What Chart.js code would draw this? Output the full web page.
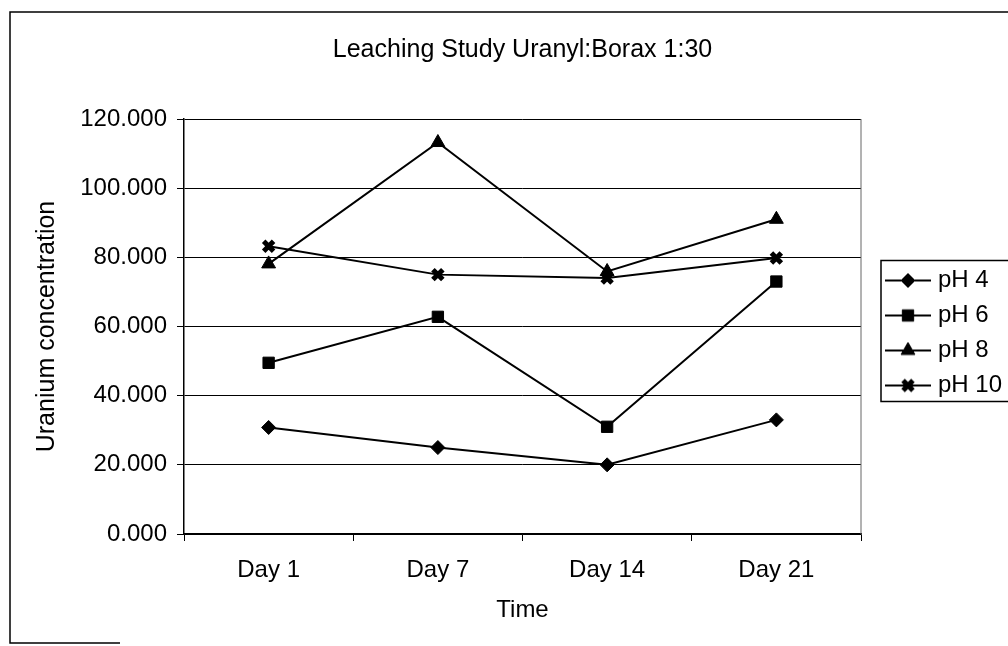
<!DOCTYPE html>
<html>
<head>
<meta charset="utf-8">
<script src="https://cdn.jsdelivr.net/npm/chart.js@4.4.1/dist/chart.umd.min.js"></script>
<style>
  html, body { margin: 0; padding: 0; background: #fff; }
</style>
</head>
<body>
<canvas id="leachChart" width="1008" height="646"></canvas>
<script>
const days = ["Day 1", "Day 7", "Day 14", "Day 21"];
const ph4 = [30.8, 25.0, 20.0, 33.0];
const ph6 = [49.5, 62.8, 31.0, 73.0];
const ph8 = [78.1, 113.2, 75.9, 91.0];
const ph10 = [83.2, 75.0, 74.0, 79.8];
const yTicks = [0, 20, 40, 60, 80, 100, 120];

Chart.defaults.font.family = '"Liberation Sans", Arial, sans-serif';
Chart.defaults.font.size = 24;
Chart.defaults.color = "#000";

function series(label, data, style, radius, bw) {
  return {
    label: label,
    data: data,
    borderColor: "#000",
    backgroundColor: "#000",
    borderWidth: 2,
    pointStyle: style,
    pointRadius: radius,
    pointBorderWidth: bw,
    pointBackgroundColor: "#000",
    pointBorderColor: "#000",
    tension: 0,
    fill: false
  };
}

// little line+marker picture for each legend entry
function legendGlyph(ds) {
  const c = document.createElement("canvas");
  c.width = 46;
  c.height = 20;
  const g = c.getContext("2d");
  g.strokeStyle = "#000";
  g.fillStyle = "#000";
  g.lineWidth = 2;
  g.beginPath();
  g.moveTo(0, 10);
  g.lineTo(46, 10);
  g.stroke();
  g.lineWidth = ds.pointBorderWidth;
  Chart.helpers.drawPoint(g, {
    pointStyle: ds.pointStyle,
    radius: ds.pointRadius,
    borderWidth: ds.pointBorderWidth,
    rotation: 0
  }, 23, 10);
  return c;
}

const decor = {
  id: "decor",
  afterLayout(chart) {
    // push the legend a bit away from the plot
    const lg = chart.legend;
    lg.left += 18; lg.right += 18;
    lg.top += 4; lg.bottom += 4;
  },
  beforeDraw(chart) {
    const ctx = chart.ctx;
    ctx.save();
    ctx.fillStyle = "#fff";
    ctx.fillRect(0, 0, chart.width, chart.height);
    ctx.restore();
  },
  afterDraw(chart) {
    const ctx = chart.ctx;
    const a = chart.chartArea;
    ctx.save();
    // outer chart frame (scan cuts it on the right and bottom)
    ctx.strokeStyle = "#000";
    ctx.lineWidth = 1.5;
    ctx.beginPath();
    ctx.moveTo(chart.width, 12);
    ctx.lineTo(10, 12);
    ctx.lineTo(10, 643);
    ctx.lineTo(120, 643);
    ctx.stroke();
    // right side of plot area
    ctx.strokeStyle = "#666";
    ctx.lineWidth = 1;
    ctx.beginPath();
    ctx.moveTo(a.right, a.top);
    ctx.lineTo(a.right, a.bottom);
    ctx.stroke();
    // legend frame
    const hb = chart.legend.legendHitBoxes;
    if (hb && hb.length) {
      const first = hb[0], last = hb[hb.length - 1];
      const x0 = first.left - 9;
      const y0 = first.top - 8;
      const y1 = last.top + last.height + 4;
      ctx.strokeStyle = "#000";
      ctx.lineWidth = 1.5;
      ctx.strokeRect(x0, y0, chart.width + 5 - x0, y1 - y0);
    }
    ctx.restore();
  }
};

const leachChart = new Chart(document.getElementById("leachChart").getContext("2d"), {
  type: "line",
  data: {
    labels: days,
    datasets: [
      series("pH 4", ph4, "rectRot", 7, 1),
      series("pH 6", ph6, "rect", 8, 1),
      series("pH 8", ph8, "triangle", 8, 1),
      series("pH 10", ph10, "crossRot", 7, 5)
    ]
  },
  options: {
    responsive: false,
    animation: false,
    layout: { padding: { left: 10, right: 17, top: 12, bottom: 0 } },
    plugins: {
      title: {
        display: true,
        text: "Leaching Study Uranyl:Borax 1:30",
        fullSize: false,
        color: "#000",
        font: { size: 25, weight: "normal" },
        padding: { top: 23, bottom: 54 }
      },
      legend: {
        display: true,
        position: "right",
        maxWidth: 130,
        labels: {
          usePointStyle: true,
          pointStyleWidth: 36,
          padding: 11,
          color: "#000",
          font: { size: 24 },
          generateLabels(chart) {
            return chart.data.datasets.map((ds, i) => ({
              text: ds.label,
              pointStyle: legendGlyph(ds),
              datasetIndex: i,
              hidden: false,
              lineWidth: 0,
              fontColor: "#000"
            }));
          }
        }
      },
      tooltip: { enabled: false }
    },
    scales: {
      x: {
        offset: true,
        grid: { offset: true, drawOnChartArea: false, tickLength: 7, color: "#000" },
        border: { color: "#000", width: 1.5 },
        ticks: { padding: 15, color: "#000" },
        title: {
          display: true,
          text: "Time",
          color: "#000",
          font: { size: 24 },
          padding: { top: 0, bottom: 21 }
        },
        afterFit(scale) { scale.height = 112; }
      },
      y: {
        min: yTicks[0],
        max: yTicks[yTicks.length - 1],
        ticks: {
          stepSize: yTicks[1] - yTicks[0],
          padding: 10,
          color: "#000",
          callback: (v) => Number(v).toFixed(3)
        },
        grid: { color: "#000", lineWidth: 1, tickLength: 7 },
        border: { color: "#000", width: 1.5 },
        title: {
          display: true,
          text: "Uranium concentration",
          color: "#000",
          font: { size: 25 },
          padding: { top: 22.5, bottom: 0 }
        },
        afterFit(scale) { scale.width = 174; }
      }
    }
  },
  plugins: [decor]
});
</script>
</body>
</html>
